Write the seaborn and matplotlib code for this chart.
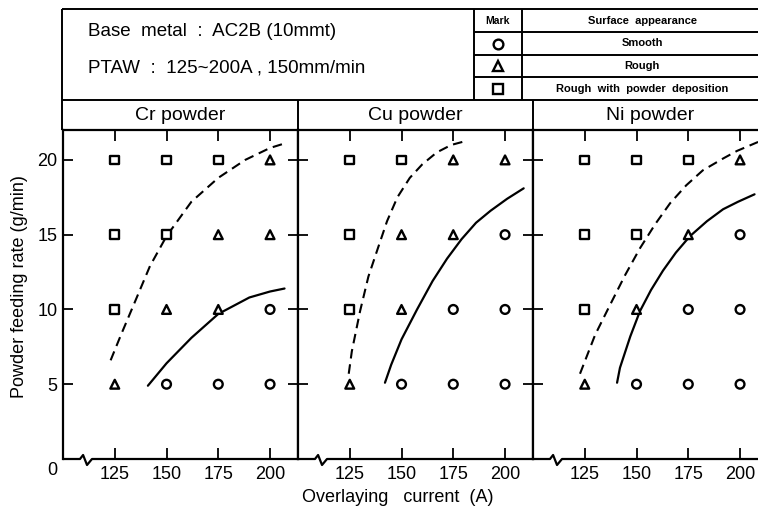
import matplotlib.pyplot as plt
import pandas as pd
import seaborn as sns
from matplotlib.lines import Line2D
from matplotlib.transforms import blended_transform_factory

sns.set_theme(
    style="ticks",
    rc={
        "axes.edgecolor": "black",
        "xtick.color": "black",
        "ytick.color": "black",
        "text.color": "black",
        "axes.labelcolor": "black",
    },
)
plt.rcParams["font.family"] = ["Liberation Sans", "DejaVu Sans"]

# data
currents = [125, 150, 175, 200]
rates = [5, 10, 15, 20]
powders = ["Cr powder", "Cu powder", "Ni powder"]
mark_names = ["Smooth", "Rough", "Rough with powder deposition"]

# one row per feeding rate (5, 10, 15, 20 g/min), one column per current
cr_marks = [
    ["Rough", "Smooth", "Smooth", "Smooth"],
    ["Rough with powder deposition", "Rough", "Rough", "Smooth"],
    ["Rough with powder deposition", "Rough with powder deposition", "Rough", "Rough"],
    ["Rough with powder deposition", "Rough with powder deposition", "Rough with powder deposition", "Rough"],
]
cu_marks = [
    ["Rough", "Smooth", "Smooth", "Smooth"],
    ["Rough with powder deposition", "Rough", "Smooth", "Smooth"],
    ["Rough with powder deposition", "Rough", "Rough", "Smooth"],
    ["Rough with powder deposition", "Rough with powder deposition", "Rough", "Rough"],
]
ni_marks = [
    ["Rough", "Smooth", "Smooth", "Smooth"],
    ["Rough with powder deposition", "Rough", "Smooth", "Smooth"],
    ["Rough with powder deposition", "Rough with powder deposition", "Rough", "Smooth"],
    ["Rough with powder deposition", "Rough with powder deposition", "Rough with powder deposition", "Rough"],
]

# boundary curves: dashed = deposition limit, solid = smooth limit
cr_dash_x = [123, 128, 133.8, 142, 150, 162, 175, 188, 200, 207]
cr_dash_y = [6.6, 8.3, 10.2, 12.9, 14.9, 17.2, 18.8, 20.0, 20.8, 21.1]
cr_solid_x = [141, 150, 162, 175, 190, 200, 207]
cr_solid_y = [4.9, 6.4, 8.1, 9.7, 10.8, 11.2, 11.4]

cu_dash_x = [124.5, 126, 130, 134, 138.6, 143, 148, 154, 160, 167, 174, 182]
cu_dash_y = [5.7, 7.2, 9.9, 12.2, 14.1, 15.9, 17.5, 18.8, 19.7, 20.5, 21.0, 21.3]
cu_solid_x = [142, 145, 150, 157.5, 165, 172, 179, 186, 193, 201, 209]
cu_solid_y = [5.1, 6.3, 8.0, 10.0, 11.9, 13.4, 14.7, 15.8, 16.6, 17.4, 18.1]

ni_dash_x = [122.7, 130, 137.2, 144.5, 151.7, 159, 166.2, 174, 182, 191.9, 198.5, 208.7]
ni_dash_y = [5.7, 8.3, 10.3, 12.3, 14.1, 15.7, 17.1, 18.3, 19.3, 20.1, 20.6, 21.2]
ni_solid_x = [140.6, 142, 147, 151.7, 157, 162.8, 169, 175.8, 184, 191.8, 199, 207]
ni_solid_y = [5.1, 6.1, 8.2, 9.9, 11.3, 12.6, 13.8, 14.9, 15.9, 16.7, 17.2, 17.7]

records = []
for powder, grid in zip(powders, [cr_marks, cu_marks, ni_marks]):
    for rate, row in zip(rates, grid):
        for current, mark in zip(currents, row):
            records.append({"powder": powder, "current": current, "rate": rate, "mark": mark})
points = pd.DataFrame(records)

curves = {
    "Cr powder": ((cr_dash_x, cr_dash_y), (cr_solid_x, cr_solid_y)),
    "Cu powder": ((cu_dash_x, cu_dash_y), (cu_solid_x, cu_solid_y)),
    "Ni powder": ((ni_dash_x, ni_dash_y), (ni_solid_x, ni_solid_y)),
}
mark_shapes = {"Smooth": "o", "Rough": "^", "Rough with powder deposition": "s"}

W, H = 758, 513
fig = plt.figure(figsize=(W / 100, H / 100), dpi=100)


def px_axes(x0, y0, x1, y1, **kw):
    return fig.add_axes([x0 / W, 1 - y1 / H, (x1 - x0) / W, (y1 - y0) / H], **kw)


edges = [63, 298, 533, 768]
panel_top, panel_bottom = 130, 459
lw = 1.6

for i, powder in enumerate(powders):
    ax = px_axes(edges[i], panel_top, edges[i + 1], panel_bottom)
    (dx, dy), (sx, sy) = curves[powder]
    sns.lineplot(x=dx, y=dy, ax=ax, color="black", linewidth=1.5,
                 linestyle=(0, (4.6, 2.8)), sort=False)
    sns.lineplot(x=sx, y=sy, ax=ax, color="black", linewidth=1.6, sort=False)
    sns.scatterplot(
        data=points[points["powder"] == powder], x="current", y="rate",
        style="mark", markers=mark_shapes, style_order=mark_names,
        s=40, color="white", edgecolor="black", linewidth=1.7,
        legend=False, ax=ax, zorder=3,
    )
    ax.set_xlim(100, 213.5)
    ax.set_ylim(0, 22)
    ax.set_xticks(currents)
    ax.set_yticks(rates)
    ax.set_xlabel("")
    ax.set_ylabel("")
    ax.tick_params(axis="x", direction="in", top=True, bottom=True, length=8,
                   width=1.3, labelsize=13, pad=5)
    ax.tick_params(axis="y", direction="in", left=True, right=True, length=7.5,
                   width=1.3, labelsize=13, pad=4, labelleft=(i == 0))
    for spine in ax.spines.values():
        spine.set_linewidth(lw)
    ax.spines["bottom"].set_visible(False)

    # bottom axis with the break mark
    trans = blended_transform_factory(ax.transData, ax.transAxes)
    span = panel_bottom - panel_top
    ax.add_line(Line2D([100, 108.2, 109.7, 111.6, 114, 213.5],
                       [0, 0, 4 / span, -6 / span, 0, 0],
                       transform=trans, color="black", lw=lw, clip_on=False))
    if i == 0:
        ax.annotate("0", xy=(0, 0), xycoords="axes fraction", xytext=(-8, -8.5),
                    textcoords="offset points", ha="center", va="center", fontsize=13)

# header boxes, legend table and panel titles (pixel coordinates)
hdr = px_axes(0, 0, W, H, zorder=-1)
hdr.set_xlim(0, W)
hdr.set_ylim(H, 0)
hdr.axis("off")
line_kw = dict(color="black", lw=1.4, solid_capstyle="butt")
hdr.plot([62, 62], [9, 130], **line_kw)
hdr.plot([62, 770], [9, 9], **line_kw)
hdr.plot([62, 770], [100, 100], **line_kw)
for x in edges[1:3]:
    hdr.plot([x, x], [100, 130], **line_kw)
for x in [474, 522]:
    hdr.plot([x, x], [9, 100], **line_kw)
for y in [32, 55, 77]:
    hdr.plot([474, 770], [y, y], **line_kw)

hdr.text(88, 31, "Base  metal  :  AC2B (10mmt)", fontsize=13.5, va="center")
hdr.text(88, 68, "PTAW  :  125~200A , 150mm/min", fontsize=13.5, va="center")

row_y = [20.5, 43.5, 66, 88.5]
hdr.text(498, row_y[0], "Mark", fontsize=7.5, weight="bold", ha="center", va="center")
hdr.text(642, row_y[0], "Surface  appearance", fontsize=8, weight="bold", ha="center", va="center")
for y, name in zip(row_y[1:], mark_names):
    label = name.replace(" ", "  ") if name.startswith("Rough with") else name
    hdr.text(642, y, label, fontsize=8, weight="bold", ha="center", va="center")
    hdr.plot(498, y, marker=mark_shapes[name], ms=7, mfc="white", mec="black", mew=1.7)

for i, powder in enumerate(powders):
    hdr.text((edges[i] + edges[i + 1]) / 2, 115, powder, fontsize=14,
             ha="center", va="center")

fig.text(20 / W, 1 - 287 / H, "Powder feeding rate (g/min)", rotation=90,
         ha="center", va="center", fontsize=13)
fig.text(398 / W, 1 - 497 / H, "Overlaying   current  (A)", ha="center",
         va="center", fontsize=13)

fig.savefig("out.png", dpi=100)
